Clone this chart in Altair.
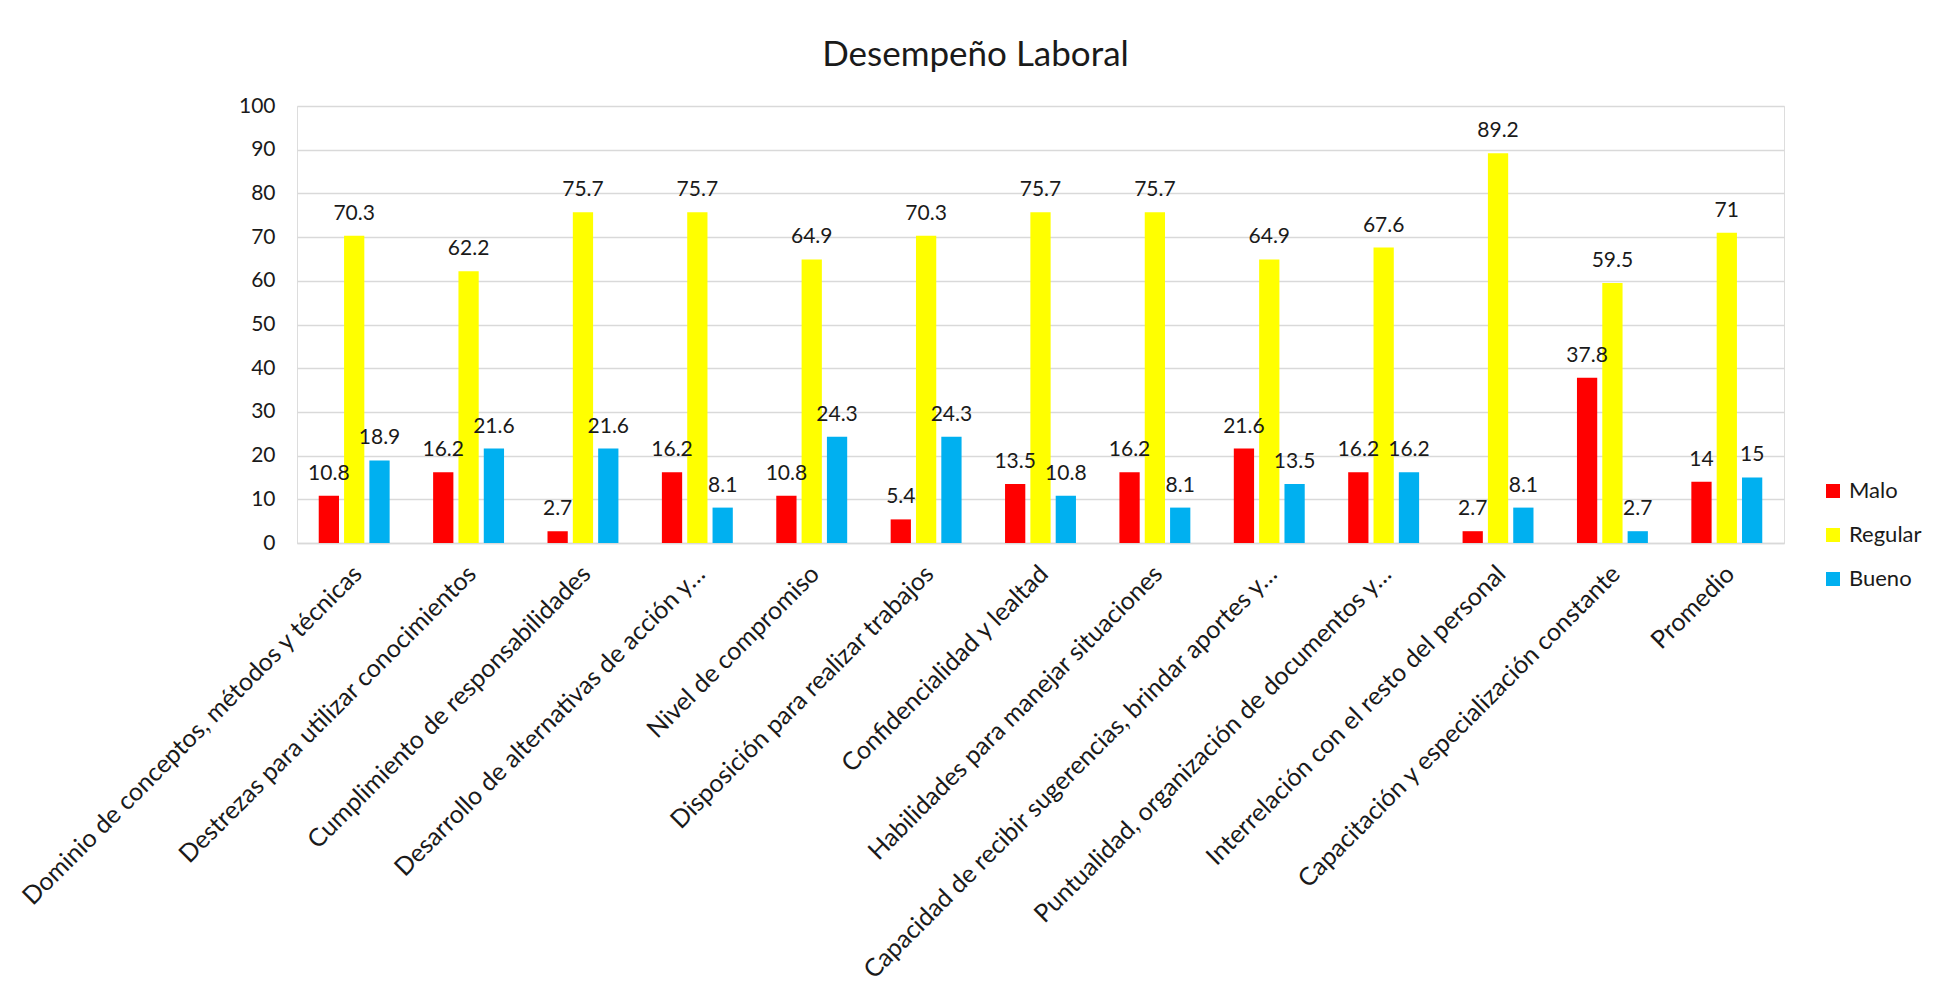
import altair as alt
import pandas as pd

categories = [
    "Dominio de conceptos, métodos y técnicas",
    "Destrezas para utilizar conocimientos",
    "Cumplimiento de responsabilidades",
    "Desarrollo de alternativas de acción y…",
    "Nivel de compromiso",
    "Disposición para realizar trabajos",
    "Confidencialidad y lealtad",
    "Habilidades para manejar situaciones",
    "Capacidad de recibir sugerencias, brindar aportes y…",
    "Puntualidad, organización de documentos y…",
    "Interrelación con el resto del personal",
    "Capacitación y especialización constante",
    "Promedio",
]
malo = [10.8, 16.2, 2.7, 16.2, 10.8, 5.4, 13.5, 16.2, 21.6, 16.2, 2.7, 37.8, 14]
regular = [70.3, 62.2, 75.7, 75.7, 64.9, 70.3, 75.7, 75.7, 64.9, 67.6, 89.2, 59.5, 71]
bueno = [18.9, 21.6, 21.6, 8.1, 24.3, 24.3, 10.8, 8.1, 13.5, 16.2, 8.1, 2.7, 15]
series = ["Malo", "Regular", "Bueno"]
colors = ["#FF0000", "#FFFF00", "#00B0F0"]

rows = []
for i, c in enumerate(categories):
    for s, vals in zip(series, [malo, regular, bueno]):
        v = vals[i]
        rows.append({"cat": c, "serie": s, "valor": v, "etiqueta": f"{v:g}"})
df = pd.DataFrame(rows)

FONT = "Lato"
TXT = "#1a1a1a"

x_enc = alt.X(
    "cat:N",
    sort=categories,
    title=None,
    scale=alt.Scale(paddingInner=0.38, paddingOuter=0.19),
    axis=alt.Axis(
        labelAngle=-45,
        labelFontSize=25,
        labelFont=FONT,
        labelColor=TXT,
        labelLimit=1000,
        labelPadding=18,
        labelOffset=-5,
        ticks=False,
        domain=True,
        domainColor="#D9D9D9",
        domainWidth=1.5,
        grid=False,
    ),
)
xoff = alt.XOffset("serie:N", sort=series, scale=alt.Scale(paddingInner=0.2, paddingOuter=0))
y_enc = alt.Y(
    "valor:Q",
    title=None,
    scale=alt.Scale(domain=[0, 100], nice=False),
    axis=alt.Axis(
        values=list(range(0, 101, 10)),
        labelFontSize=21,
        labelFont=FONT,
        labelColor=TXT,
        labelPadding=22,
        ticks=False,
        domain=False,
        gridColor="#D9D9D9",
        gridWidth=1.5,
    ),
)

bars = alt.Chart(df).mark_bar().encode(
    x=x_enc,
    xOffset=xoff,
    y=y_enc,
    color=alt.Color(
        "serie:N",
        sort=series,
        scale=alt.Scale(domain=series, range=colors),
        legend=alt.Legend(
            title=None,
            orient="none",
            legendX=1525,
            legendY=374,
            symbolType="square",
            symbolSize=196,
            symbolStrokeWidth=0,
            labelFontSize=22,
            labelFont=FONT,
            labelColor=TXT,
            rowPadding=22,
            labelOffset=5,
        ),
    ),
)

labels = alt.Chart(df).mark_text(
    baseline="alphabetic", dy=-16, fontSize=21, font=FONT, color=TXT
).encode(
    x=alt.X("cat:N", sort=categories),
    xOffset=alt.XOffset("serie:N", sort=series),
    y="valor:Q",
    text="etiqueta:N",
)

chart = (
    alt.layer(bars, labels)
    .properties(
        width=1487,
        height=437,
        title=alt.TitleParams(
            "Desempeño Laboral",
            fontSize=35,
            font=FONT,
            fontWeight="normal",
            color=TXT,
            anchor="middle",
            frame="group",
            dx=-65,
            offset=22,
        ),
        autosize=alt.AutoSizeParams(type="none"),
        padding={"left": 297, "top": 106, "right": 153, "bottom": 445},
    )
    .configure_view(stroke=None)
    .configure(background="white")
)

chart.save("out.html", embed_options={"renderer": "svg", "actions": False})
